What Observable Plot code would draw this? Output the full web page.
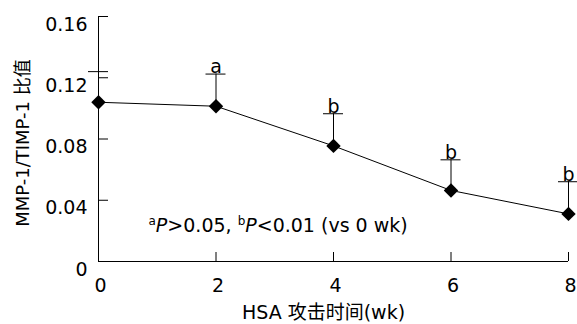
<!DOCTYPE html>
<html>
<head>
<meta charset="utf-8">
<script src="https://cdn.jsdelivr.net/npm/d3@7"></script>
<script src="https://cdn.jsdelivr.net/npm/@observablehq/plot@0.6"></script>
<style>
  html, body { margin: 0; padding: 0; background: #fff; }
  svg { font-family: "DejaVu Sans", "Noto Sans CJK SC", sans-serif; }
</style>
</head>
<body>
<div id="chart"></div>
<script>
const weeks = [0, 2, 4, 6, 8];
const ratio = [0.104, 0.1014, 0.0755, 0.0464, 0.0311];
const sd = [0.020, 0.021, 0.021, 0.020, 0.021];
const sig = ["", "a", "b", "b", "b"];
const xTicks = [0, 2, 4, 6, 8];
const yTicks = [0, 0.04, 0.08, 0.12, 0.16];
const yTickLabels = ["0", "0.04", "0.08", "0.12", "0.16"];
const yTitle = "MMP-1/TIMP-1 比值";
const xTitle = "HSA 攻击时间(wk)";
const note = "aP>0.05, bP<0.01 (vs 0 wk)";

const data = weeks.map((w, i) => ({ w, v: ratio[i], hi: ratio[i] + sd[i], s: sig[i] }));

const chart = Plot.plot({
  width: 577,
  height: 324,
  marginLeft: 98,
  marginRight: 9,
  marginTop: 16,
  marginBottom: 63,
  style: { fontFamily: '"DejaVu Sans", "Noto Sans CJK SC", sans-serif', fontSize: "19px", color: "#000", background: "#fff" },
  x: { domain: [0, 8], axis: null },
  y: { domain: [0, 0.16], axis: null },
  marks: [
    // axis lines
    Plot.ruleX([0], { y1: 0, y2: 0.16, stroke: "#000", strokeWidth: 1 }),
    Plot.ruleY([0], { x1: 0, x2: 8, stroke: "#000", strokeWidth: 1 }),
    // inward ticks
    Plot.ruleY(yTicks, { y: d => d, x1: 0, x2: 0, insetRight: -10, stroke: "#000" }),
    Plot.ruleX(xTicks.slice(1), { x: d => d, y1: 0, y2: 0, insetTop: -9, stroke: "#000" }),
    // tick labels
    Plot.text(yTicks, { x: 0, y: d => d, text: (d, i) => yTickLabels[i], textAnchor: "end", dx: -11, dy: 8, fontSize: 19 }),
    Plot.text(xTicks, { x: d => d, y: 0, text: d => String(d), lineAnchor: "top", dx: 2, dy: 17, fontSize: 19 }),
    // error bars
    Plot.ruleX(data, { x: "w", y1: "v", y2: "hi", stroke: "#000", strokeWidth: 1 }),
    Plot.ruleY(data, { y: "hi", x1: "w", x2: "w", insetLeft: -10, insetRight: -10, stroke: "#000" }),
    Plot.text(data, { x: "w", y: "hi", text: "s", lineAnchor: "bottom", dy: -1, fontSize: 19 }),
    // line + points
    Plot.line(data, { x: "w", y: "v", stroke: "#000", strokeWidth: 1 }),
    Plot.dot(data, { x: "w", y: "v", symbol: "diamond2", r: 6.5, fill: "#000", stroke: "none" }),
    // titles
    Plot.text([yTitle], { frameAnchor: "left", text: d => d, rotate: -90, textAnchor: "middle", lineAnchor: "middle", dx: -75, dy: 4, fontSize: 18 }),
    Plot.text([xTitle], { frameAnchor: "bottom", text: d => d, textAnchor: "middle", lineAnchor: "middle", dx: -10, dy: 51, fontSize: 19 }),
    Plot.text([note], { frameAnchor: "bottom-left", text: d => d, textAnchor: "start", lineAnchor: "middle", dx: 50, dy: -36, fontSize: 19, className: "note" })
  ]
});

document.getElementById("chart").appendChild(chart);

// format annotation with superscripts and italic P
const t = chart.querySelector(".note text");
if (t) {
  t.textContent = "";
  const ns = "http://www.w3.org/2000/svg";
  const parts = [
    { s: "a", sup: true }, { s: "P", it: true }, { s: ">0.05, " },
    { s: "b", sup: true }, { s: "P", it: true }, { s: "<0.01 (vs 0 wk)" }
  ];
  let shifted = false;
  for (const p of parts) {
    const ts = document.createElementNS(ns, "tspan");
    ts.textContent = p.s;
    if (p.sup) { ts.setAttribute("font-size", "12"); ts.setAttribute("dy", "-7"); shifted = true; }
    else if (shifted) { ts.setAttribute("dy", "7"); shifted = false; }
    if (p.it) ts.setAttribute("font-style", "italic");
    t.appendChild(ts);
  }
}
</script>
</body>
</html>
